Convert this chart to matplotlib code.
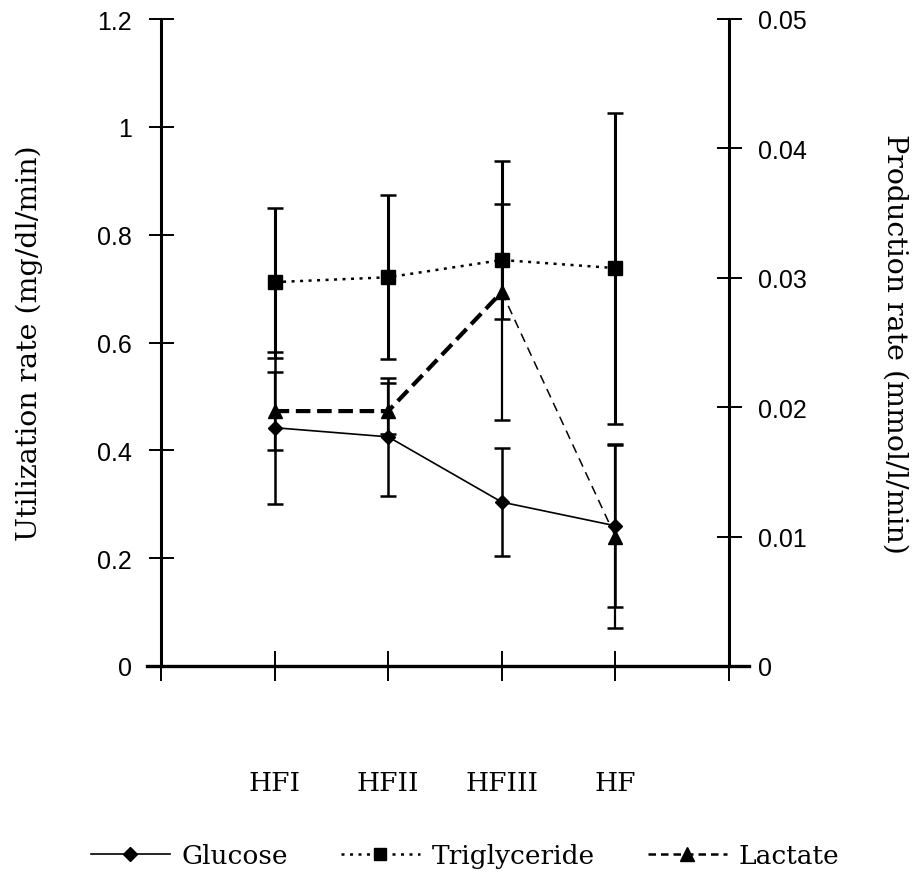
import matplotlib
matplotlib.use('Agg')
import matplotlib.pyplot as plt
from matplotlib.lines import Line2D

# ── data ───────────────────────────────────────────────────────────
groups = ['HFI', 'HFII', 'HFIII', 'HF']

# utilization rate, mg/dl/min (left axis)
glucose = [0.442, 0.425, 0.304, 0.260]
glucose_lo = [0.141, 0.110, 0.100, 0.150]
glucose_hi = [0.141, 0.110, 0.100, 0.152]

trig = [0.712, 0.721, 0.753, 0.738]
trig_lo = [0.140, 0.152, 0.110, 0.290]
trig_hi = [0.138, 0.152, 0.184, 0.288]

# production rate, mmol/l/min (right axis)
lactate = [0.0197, 0.0197, 0.0289, 0.0100]
lactate_lo = [0.0030, 0.0018, 0.0099, 0.0071]
lactate_hi = [0.0030, 0.0022, 0.0068, 0.0071]

SERIF = 'DejaVu Serif'
SANS = 'Liberation Sans'

fig = plt.figure(figsize=(9.16, 8.78), dpi=100)
ax = fig.add_axes([147 / 916, 1 - 667 / 878, 602 / 916, 647 / 878])
ax2 = ax.twinx()

x = [1, 2, 3, 4]
ax.set_xlim(-14 / 113.6, 5 + 20 / 113.6)
ax.set_ylim(0, 1.2)
ax2.set_ylim(0, 0.05)

# error bars
ax.errorbar(x, trig, yerr=[trig_lo, trig_hi], fmt='none', ecolor='black',
            elinewidth=2.2, capsize=6, capthick=1.8, zorder=2)
ax.errorbar(x, glucose, yerr=[glucose_lo, glucose_hi], fmt='none', ecolor='black',
            elinewidth=1.8, capsize=6, capthick=1.8, zorder=2)
ax2.errorbar(x, lactate, yerr=[lactate_lo, lactate_hi], fmt='none', ecolor='black',
             elinewidth=1.6, capsize=6, capthick=1.8, zorder=2)

# series lines
ax.plot(x, glucose, color='black', ls='-', lw=1.2, marker='D', ms=7, zorder=3)
ax.plot(x, trig, color='black', ls=(0, (1.2, 2.2)), lw=1.8, marker='s', ms=10, zorder=3)
ax2.plot(x[:3], lactate[:3], color='black', ls=(0, (3.5, 1.6)), lw=3.0, zorder=3)
ax2.plot(x[2:], lactate[2:], color='black', ls=(0, (6, 4)), lw=1.1, zorder=3)
ax2.plot(x, lactate, ls='none', color='black', marker='^', ms=10, zorder=4)

# spines
for s in ['top', 'right']:
    ax.spines[s].set_visible(False)
for s in ['top', 'left', 'bottom']:
    ax2.spines[s].set_visible(False)
ax.spines['left'].set_position(('data', 0))
ax2.spines['right'].set_position(('data', 5))
ax.spines['left'].set_linewidth(2.2)
ax.spines['bottom'].set_linewidth(2.4)
ax2.spines['right'].set_linewidth(2.2)

ax.set_yticks([0, 0.2, 0.4, 0.6, 0.8, 1.0, 1.2])
ax.set_yticklabels(['0', '0.2', '0.4', '0.6', '0.8', '1', '1.2'], family=SANS, fontsize=18)
ax2.set_yticks([0, 0.01, 0.02, 0.03, 0.04, 0.05])
ax2.set_yticklabels(['0', '0.01', '0.02', '0.03', '0.04', '0.05'], family=SANS, fontsize=18)
ax.tick_params(axis='y', direction='inout', length=18, width=1.4, pad=12)
ax2.tick_params(axis='y', direction='inout', length=18, width=1.4, pad=12)

ax.set_xticks([0, 1, 2, 3, 4, 5])
ax.set_xticklabels([''] + groups + [''], family=SERIF, fontsize=19)
ax.tick_params(axis='x', direction='inout', length=22, width=1.4, pad=64)

ax.set_ylabel('Utilization rate (mg/dl/min)', family=SERIF, fontsize=20.5)
ax.yaxis.set_label_coords(-0.172, 0.5)
ax2.set_ylabel('Production rate (mmol/l/min)', family=SERIF, fontsize=20.5,
               rotation=270, va='center')
ax2.yaxis.set_label_coords(1.243, 0.5)

handles = [
    Line2D([], [], color='black', ls='-', lw=1.2, marker='D', ms=7),
    Line2D([], [], color='black', ls=(0, (1.2, 2.2)), lw=1.8, marker='s', ms=9),
    Line2D([], [], color='black', ls=(0, (3, 2)), lw=1.8, marker='^', ms=10),
]
fig.legend(handles, ['Glucose', 'Triglyceride', 'Lactate'], loc='center',
           bbox_to_anchor=(465 / 916, 1 - 857 / 878), ncol=3, frameon=False,
           prop={'family': SERIF, 'size': 19}, handlelength=3.0,
           handletextpad=0.45, columnspacing=2.0)

plt.savefig('out.png', dpi=100)
